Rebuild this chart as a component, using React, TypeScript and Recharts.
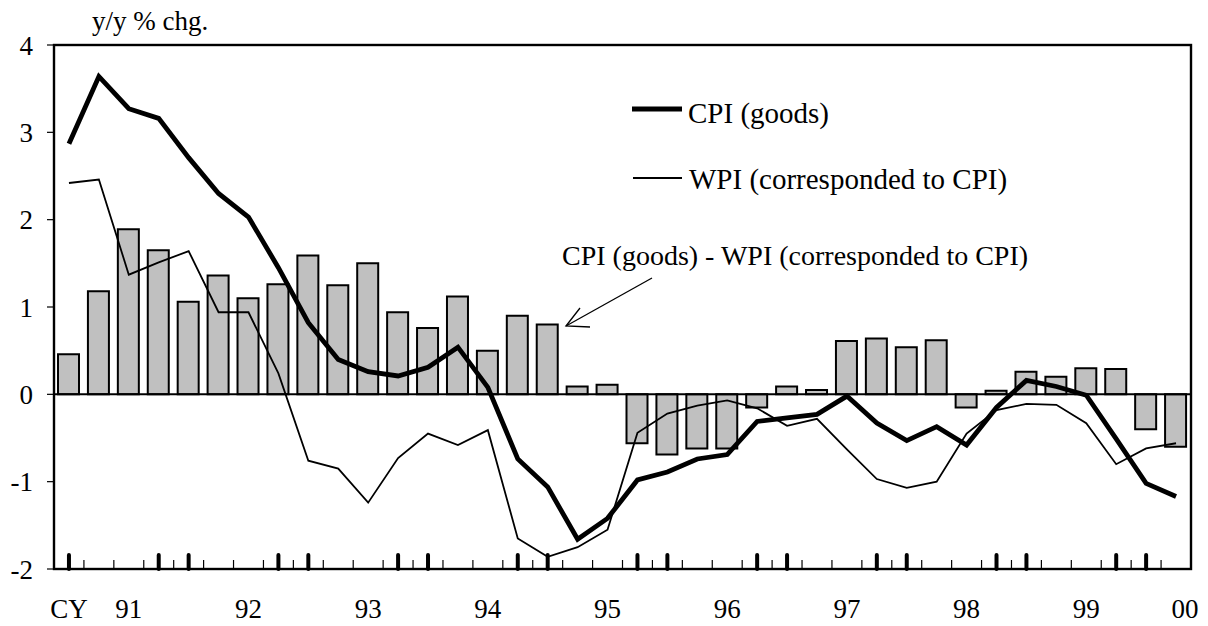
import { Bar, ComposedChart, Line, ReferenceLine, XAxis, YAxis } from "recharts";

const quarters = [
  "91Q1", "91Q2", "91Q3", "91Q4", "92Q1", "92Q2", "92Q3", "92Q4",
  "93Q1", "93Q2", "93Q3", "93Q4", "94Q1", "94Q2", "94Q3", "94Q4",
  "95Q1", "95Q2", "95Q3", "95Q4", "96Q1", "96Q2", "96Q3", "96Q4",
  "97Q1", "97Q2", "97Q3", "97Q4", "98Q1", "98Q2", "98Q3", "98Q4",
  "99Q1", "99Q2", "99Q3", "99Q4", "00Q1", "00Q2",
];

const yearLabels = [
  "CY", "", "91", "", "", "", "92", "", "", "", "93", "", "", "", "94", "", "", "", "95", "",
  "", "", "96", "", "", "", "97", "", "", "", "98", "", "", "", "99", "", "", "00",
];

const cpiGoods = [
  2.87, 3.64, 3.27, 3.16, 2.71, 2.3, 2.03, 1.45, 0.82, 0.4,
  0.26, 0.21, 0.31, 0.54, 0.08, -0.74, -1.06, -1.66, -1.42, -0.98,
  -0.89, -0.74, -0.69, -0.31, -0.27, -0.23, -0.02, -0.33, -0.53, -0.37,
  -0.58, -0.15, 0.16, 0.09, -0.01, -0.51, -1.02, -1.17,
];

const wpiCpi = [
  2.42, 2.46, 1.37, 1.51, 1.64, 0.94, 0.94, 0.24, -0.76, -0.85,
  -1.24, -0.73, -0.45, -0.58, -0.41, -1.65, -1.86, -1.75, -1.55, -0.44,
  -0.22, -0.13, -0.07, -0.16, -0.36, -0.28, -0.63, -0.97, -1.07, -1.0,
  -0.45, -0.18, -0.11, -0.12, -0.33, -0.8, -0.62, -0.56,
];

const gap = [
  0.46, 1.18, 1.89, 1.65, 1.06, 1.36, 1.1, 1.26, 1.59, 1.25,
  1.5, 0.94, 0.76, 1.12, 0.5, 0.9, 0.8, 0.09, 0.11, -0.56,
  -0.69, -0.62, -0.62, -0.15, 0.09, 0.05, 0.61, 0.64, 0.54, 0.62,
  -0.15, 0.04, 0.26, 0.2, 0.3, 0.29, -0.4, -0.6,
];

const yTicks = [-2, -1, 0, 1, 2, 3, 4];

const data = quarters.map((q, i) => ({
  q,
  label: yearLabels[i],
  cpi: cpiGoods[i],
  wpi: wpiCpi[i],
  gap: gap[i],
}));

const W = 1208;
const H = 626;
const LEFT = 54;
const RIGHT = 1191;
const TOP = 45;
const BOTTOM = 569;
const BAND = (RIGHT - LEFT) / quarters.length;
const FONT = "'Liberation Serif', 'Times New Roman', serif";

function QuarterTick(props: any) {
  const { x, index } = props;
  const label = yearLabels[index];
  const thick = index % 4 === 0 || index % 4 === 3;
  const last = index === quarters.length - 1;
  return (
    <g>
      {!last && (
        <line x1={x + BAND / 2} x2={x + BAND / 2} y1={BOTTOM} y2={BOTTOM - 9} stroke="#000" strokeWidth={1.2} />
      )}
      {thick && (
        <line x1={x} x2={x} y1={BOTTOM} y2={BOTTOM - 14} stroke="#000" strokeWidth={4} strokeLinecap="round" />
      )}
      {label && (
        <text x={last ? x + 9 : x} y={BOTTOM + 49} textAnchor="middle" fontSize={27} fontFamily={FONT} fill="#000">
          {label}
        </text>
      )}
    </g>
  );
}

export default function App() {
  return (
    <div style={{ position: "absolute", left: 0, top: 0, width: W, height: H, background: "#fff" }}>
      <ComposedChart width={W} height={H} data={data} margin={{ top: TOP, right: W - RIGHT, bottom: 0, left: 0 }}>
        <XAxis
          dataKey="q"
          interval={0}
          height={H - BOTTOM}
          tickLine={false}
          tickSize={0}
          tickMargin={0}
          axisLine={{ stroke: "#000", strokeWidth: 2 }}
          tick={<QuarterTick />}
        />
        <YAxis
          domain={[-2, 4]}
          ticks={yTicks}
          width={LEFT}
          tickSize={7}
          tickMargin={14}
          tickLine={{ stroke: "#000", strokeWidth: 1.2 }}
          axisLine={{ stroke: "#000", strokeWidth: 2 }}
          tick={{ fill: "#000", fontSize: 27, fontFamily: FONT }}
        />
        <Bar dataKey="gap" barSize={21} fill="#c0c0c0" stroke="#000" strokeWidth={2} isAnimationActive={false} />
        <ReferenceLine y={0} stroke="#000" strokeWidth={2} />
        <Line type="linear" dataKey="wpi" stroke="#000" strokeWidth={1.8} dot={false} isAnimationActive={false} />
        <Line type="linear" dataKey="cpi" stroke="#000" strokeWidth={4.8} dot={false} isAnimationActive={false} />
      </ComposedChart>
      <svg
        width={W}
        height={H}
        style={{ position: "absolute", left: 0, top: 0, pointerEvents: "none" }}
        fontFamily={FONT}
      >
        <rect x={LEFT} y={TOP} width={RIGHT - LEFT} height={BOTTOM - TOP} fill="none" stroke="#000" strokeWidth={2.4} />
        <text x={92} y={30} fill="#000" fontSize={27}>y/y % chg.</text>
        <line x1={632} x2={682} y1={109} y2={109} stroke="#000" strokeWidth={4.8} />
        <text x={688} y={123} fill="#000" fontSize={29}>CPI (goods)</text>
        <line x1={633} x2={682} y1={178} y2={178} stroke="#000" strokeWidth={1.8} />
        <text x={689} y={189} fill="#000" fontSize={29}>WPI (corresponded to CPI)</text>
        <text x={562} y={265} fill="#000" fontSize={28}>CPI (goods) - WPI (corresponded to CPI)</text>
        <line x1={652} y1={278} x2={566} y2={326} stroke="#000" strokeWidth={1.3} />
        <polyline points="580,308 566,326 590,327" fill="none" stroke="#000" strokeWidth={1.3} />
      </svg>
    </div>
  );
}
